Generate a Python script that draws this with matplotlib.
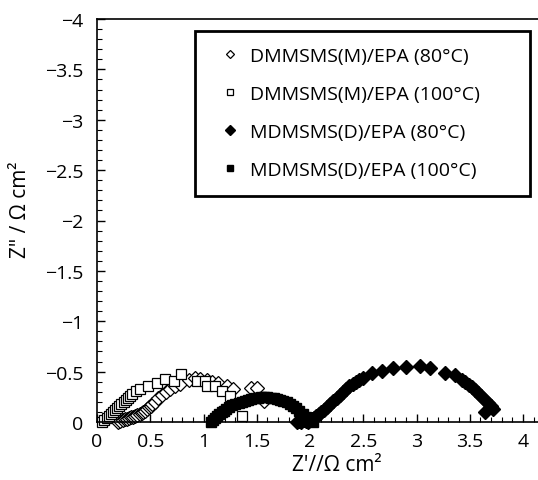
import matplotlib
matplotlib.use('Agg')
import matplotlib.pyplot as plt
from matplotlib.ticker import MultipleLocator

plt.rcParams['font.family'] = ['Open Sans', 'DejaVu Sans']

# DMMSMS(M)/EPA 80 C  (open diamonds)
m80_x = [0.20, 0.22, 0.24, 0.26, 0.28, 0.30, 0.32, 0.34, 0.36, 0.38, 0.40,
         0.42, 0.435, 0.45, 0.47, 0.49, 0.505, 0.52, 0.54, 0.57, 0.61, 0.65,
         0.685, 0.73, 0.78, 0.86, 0.92, 0.97, 1.03, 1.08, 1.14, 1.22, 1.28,
         1.45, 1.50, 1.57]
m80_y = [0.00, 0.01, 0.02, 0.025, 0.03, 0.04, 0.045, 0.05, 0.06, 0.07, 0.08,
         0.085, 0.096, 0.11, 0.13, 0.15, 0.16, 0.18, 0.20, 0.235, 0.27, 0.30,
         0.33, 0.36, 0.38, 0.42, 0.44, 0.43, 0.42, 0.40, 0.39, 0.36, 0.33,
         0.34, 0.34, 0.21]

# DMMSMS(M)/EPA 100 C  (open squares)
m100_x = [0.05, 0.07, 0.09, 0.11, 0.13, 0.15, 0.17, 0.19, 0.21, 0.23, 0.25,
          0.27, 0.29, 0.31, 0.33, 0.37, 0.40, 0.48, 0.56, 0.64, 0.72, 0.79,
          0.94, 1.01, 1.03, 1.11, 1.17, 1.25, 1.36]
m100_y = [0.00, 0.02, 0.04, 0.06, 0.08, 0.10, 0.12, 0.14, 0.16, 0.18, 0.20,
          0.22, 0.24, 0.26, 0.28, 0.31, 0.33, 0.36, 0.39, 0.43, 0.41, 0.48,
          0.41, 0.41, 0.36, 0.36, 0.31, 0.26, 0.06]

# MDMSMS(D)/EPA 80 C  (filled diamonds)
d80_x = [1.88, 1.90, 1.92, 1.94, 1.96, 1.98, 2.00, 2.02, 2.04, 2.06, 2.08,
         2.10, 2.13, 2.16, 2.19, 2.22, 2.25, 2.28, 2.31, 2.34, 2.37, 2.40,
         2.43, 2.46, 2.50, 2.58, 2.68, 2.78, 2.90, 3.03, 3.13, 3.27, 3.36,
         3.43, 3.46, 3.49, 3.52, 3.55, 3.58, 3.61, 3.64, 3.67, 3.70, 3.72,
         3.64]
d80_y = [0.00, 0.01, 0.00, 0.02, 0.01, 0.00, 0.02, 0.03, 0.04, 0.06, 0.08,
         0.10, 0.12, 0.15, 0.18, 0.21, 0.24, 0.27, 0.30, 0.33, 0.36, 0.38,
         0.40, 0.42, 0.44, 0.49, 0.51, 0.54, 0.55, 0.56, 0.54, 0.49, 0.47,
         0.42, 0.40, 0.37, 0.35, 0.32, 0.29, 0.26, 0.22, 0.19, 0.16, 0.13,
         0.10]

# MDMSMS(D)/EPA 100 C  (filled squares)
d100_x = [1.07, 1.09, 1.11, 1.13, 1.15, 1.17, 1.19, 1.21, 1.24, 1.27, 1.30,
          1.33, 1.36, 1.39, 1.42, 1.45, 1.48, 1.51, 1.54, 1.57, 1.60, 1.63,
          1.66, 1.69, 1.72, 1.75, 1.78, 1.81, 1.84, 1.87, 1.90, 1.93, 1.96,
          1.99, 2.01, 2.03]
d100_y = [0.00, 0.02, 0.04, 0.06, 0.08, 0.10, 0.11, 0.13, 0.15, 0.17, 0.18,
          0.19, 0.20, 0.21, 0.22, 0.23, 0.235, 0.24, 0.245, 0.245, 0.245,
          0.24, 0.235, 0.23, 0.22, 0.21, 0.20, 0.18, 0.16, 0.14, 0.11, 0.08,
          0.05, 0.03, 0.01, 0.00]

labels = ['DMMSMS(M)/EPA (80°C)', 'DMMSMS(M)/EPA (100°C)',
          'MDMSMS(D)/EPA (80°C)', 'MDMSMS(D)/EPA (100°C)']

xticks = [0, 0.5, 1, 1.5, 2, 2.5, 3, 3.5, 4]
yticks = [0, -0.5, -1, -1.5, -2, -2.5, -3, -3.5, -4]


def neg(vals):
    return [-v for v in vals]


fig = plt.figure(figsize=(5.38, 4.81), dpi=100)
ax = fig.add_axes([97 / 538, 1 - 423 / 481, 441 / 538, 403 / 481])

ax.plot(m80_x, neg(m80_y), 'D', ms=7, mfc='white', mec='black', mew=0.9,
        clip_on=False, label=labels[0])
ax.plot(m100_x, neg(m100_y), 's', ms=6.8, mfc='white', mec='black',
        mew=0.9, clip_on=False, label=labels[1])
ax.plot(d80_x, neg(d80_y), 'D', ms=7.5, color='black', clip_on=False,
        label=labels[2])
ax.plot(d100_x, neg(d100_y), 's', ms=7.2, color='black', clip_on=False,
        label=labels[3])

ax.set_xlim(0, 441 / 106.5)
ax.set_ylim(0, -4)
ax.xaxis.set_minor_locator(MultipleLocator(0.1))
ax.yaxis.set_minor_locator(MultipleLocator(0.1))
ax.set_xticks(xticks)
ax.set_xticklabels(['%g' % t for t in xticks])
ax.set_yticks(yticks)
ax.set_yticklabels([('%g' % t).replace('-', '\u2212') for t in yticks])
ax.tick_params(which='major', direction='in', length=6, width=1,
               labelsize=14, pad=7)
ax.tick_params(which='minor', direction='in', length=3.5, width=0.8)
ax.tick_params(axis='y', which='major', pad=10)
ax.spines['right'].set_visible(False)
for s in ['left', 'bottom', 'top']:
    ax.spines[s].set_linewidth(1.2)

ax.set_xlabel('Z\'//Ω cm²', fontsize=15)
ax.set_ylabel('Z" / Ω cm²', fontsize=15)
ax.xaxis.set_label_coords(0.544, -0.08)
ax.yaxis.set_label_coords(-0.15, 0.53)

leg = ax.legend(loc='upper left', bbox_to_anchor=(0.222, 0.971, 0.76, 0.0),
                mode='expand', fontsize=14, numpoints=1, markerscale=0.65,
                handlelength=1.9, handletextpad=0.1, borderpad=0.85,
                labelspacing=1.03, borderaxespad=0, fancybox=False,
                framealpha=1)
leg.get_frame().set_edgecolor('black')
leg.get_frame().set_linewidth(2)

fig.savefig('out.png', dpi=100)
